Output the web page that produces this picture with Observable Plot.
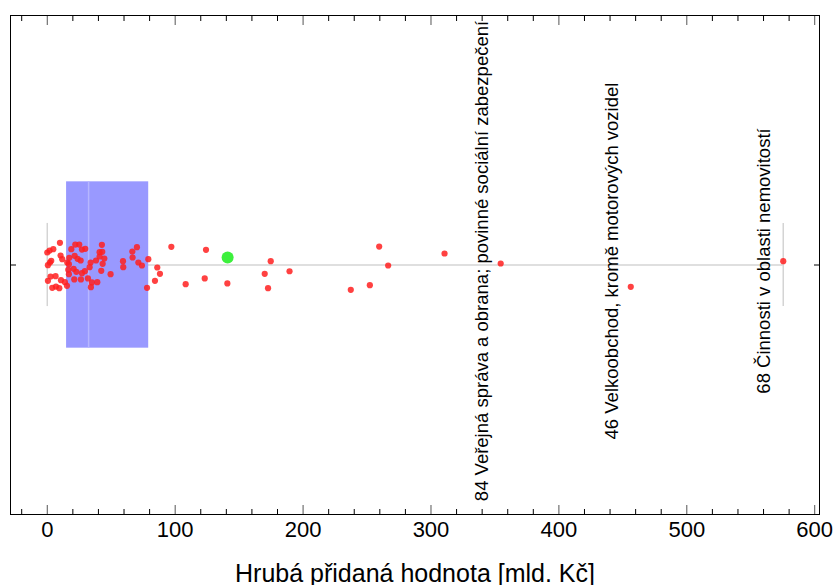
<!DOCTYPE html>
<html>
<head>
<meta charset="utf-8">
<script src="https://cdn.jsdelivr.net/npm/d3@7"></script>
<script src="https://cdn.jsdelivr.net/npm/@observablehq/plot@0.6"></script>
<style>
  html, body { margin: 0; padding: 0; background: #fff; }
  svg { display: block; }
</style>
</head>
<body>
<div id="chart"></div>
<script>
// Hrubá přidaná hodnota jednotlivých odvětví (mld. Kč)
const hodnoty = [9.9, 0.0, 1.8, 4.7, 3.1, 2.1, 0.5, 10.4, 11.7, 2.6, 0.5, 6.5, 3.9, 6.8, 9.4, 10.7, 13.8, 15.4,
  18.8, 21.9, 25.0, 27.1, 29.7, 17.2, 21.4, 23.7, 26.1, 15.6, 16.9, 20.6, 22.7, 16.4, 16.9, 27.1, 29.4, 21.1, 26.3, 31.8,
  33.9, 33.1, 38.1, 40.9, 42.7, 43.0, 44.6, 43.3, 42.2, 34.9, 34.1, 39.1, 49.5, 59.2, 59.4, 66.5, 70.1, 66.7, 71.2, 74.0,
  79.0, 78.0, 86.0, 88.1, 84.2, 97.0, 108.2, 124.1, 123.1, 140.8, 40.9, 174.7, 170.0, 189.4, 172.6, 237.3, 252.2, 259.5,
  266.5, 310.6, 354.5, 456.2, 575.4];
// svislý rozptyl (jitter) bodů
const rozptyl = [0.267, 0.150, 0.174, 0.190, 0.050, 0.030, -0.002, 0.114, 0.070, -0.138, -0.190, -0.134, -0.275, -0.259, -0.279, -0.182, -0.206, -0.250,
  0.190, 0.246, 0.246, 0.186, 0.194, 0.086, 0.110, 0.074, 0.054, 0.030, 0.010, -0.046, -0.082, -0.058, -0.110, -0.098, -0.074, -0.174, -0.174, -0.162,
  0.030, -0.026, 0.054, 0.102, 0.243, 0.158, 0.078, 0.014, -0.070, -0.210, -0.267, -0.206, -0.110, 0.046, -0.026, 0.162, 0.214, 0.090, 0.030, -0.006,
  0.070, -0.275, -0.030, -0.106, -0.190, 0.218, -0.230, 0.182, -0.162, -0.222, 0.154, 0.046, -0.106, -0.075, -0.279, -0.298, -0.243, 0.222,
  -0.006, 0.138, 0.018, -0.262, 0.046];

// krabicový graf
const kvartil1 = 15.1;
const median = 32.3;
const kvartil3 = 79.3;
const minimum = 0;
const maximum = 575.4;
const prumer = 141;
const prumerRozptyl = 0.09;

// popisky odlehlých odvětví
const popisky = ["84 Veřejná správa a obrana; povinné sociální zabezpečení",
                 "46 Velkoobchod, kromě motorových vozidel",
                 "68 Činnosti v oblasti nemovitostí"];
const popiskyHodnoty = [354.5, 456.2, 575.4];

// popisky os
const hlavniTicky = [0, 100, 200, 300, 400, 500, 600];
const vedlejsiTicky = [-20, 20, 40, 60, 80, 120, 140, 160, 180, 220, 240, 260, 280, 320, 340, 360, 380,
  420, 440, 460, 480, 520, 540, 560, 580];
const popisOsyX = "Hrubá přidaná hodnota [mld. Kč]";

const body = hodnoty.map((v, i) => ({hodnota: v, j: rozptyl[i]}));
const odlehle = popisky.map((p, i) => ({popis: p, hodnota: popiskyHodnoty[i]}));

const plot = Plot.plot({
  width: 835,
  height: 585,
  marginLeft: 10,
  marginRight: 16,
  marginTop: 15,
  marginBottom: 71,
  style: {fontFamily: "'Liberation Sans', Arial, sans-serif", fontSize: "22px", color: "black", background: "white"},
  x: {domain: [-28.75, 603.75], axis: null},
  y: {domain: [-3, 3], axis: null},
  marks: [
    // whisker
    Plot.ruleY([0], {x1: minimum, x2: maximum, stroke: "#d4d4d4", strokeWidth: 1.5}),
    Plot.ruleX([minimum, maximum], {y1: -0.5, y2: 0.5, stroke: "#d4d4d4", strokeWidth: 1.5}),
    // box
    Plot.rectX([{a: kvartil1, b: kvartil3}], {x1: "a", x2: "b", y1: -1, y2: 1, fill: "#9999ff"}),
    Plot.ruleX([median], {y1: -1, y2: 1, stroke: "#b6b6ff", strokeWidth: 1.5}),
    // body
    Plot.dot(body, {x: "hodnota", y: "j", r: 3.1, fill: "#ff2020", fillOpacity: 0.85, stroke: "none"}),
    Plot.dot([prumer], {x: d => d, y: prumerRozptyl, r: 6, fill: "#3df03d", stroke: "none"}),
    // popisky
    Plot.text(odlehle, {x: "hodnota", y: 0, text: "popis", rotate: -90, textAnchor: "middle", lineAnchor: "middle",
      dx: -19, dy: -4, fontSize: 18.5, fill: "black"}),
    // rámeček a osy
    Plot.frame({stroke: "black"}),
    Plot.axisX({anchor: "bottom", ticks: hlavniTicky, tickSize: -9, fill: "none", stroke: "#555", label: null}),
    Plot.axisX({anchor: "bottom", ticks: vedlejsiTicky, tickSize: -5, fill: "none", stroke: "black", label: null}),
    Plot.axisX({anchor: "top", ticks: hlavniTicky, tickSize: -9, fill: "none", stroke: "#555", label: null}),
    Plot.axisX({anchor: "top", ticks: vedlejsiTicky, tickSize: -5, fill: "none", stroke: "black", label: null}),
    Plot.axisX({anchor: "bottom", ticks: hlavniTicky, tickSize: 0, tickPadding: 7, stroke: "none", label: null, fontSize: 22}),
    Plot.axisY({anchor: "left", ticks: [0], tickSize: -6, fill: "none", stroke: "black", label: null}),
    Plot.axisY({anchor: "right", ticks: [0], tickSize: -6, fill: "none", stroke: "black", label: null}),
    Plot.text([popisOsyX], {frameAnchor: "bottom", dy: 59, fontSize: 25, lineAnchor: "middle", fill: "black"})
  ]
});
document.getElementById("chart").appendChild(plot);
</script>
</body>
</html>
